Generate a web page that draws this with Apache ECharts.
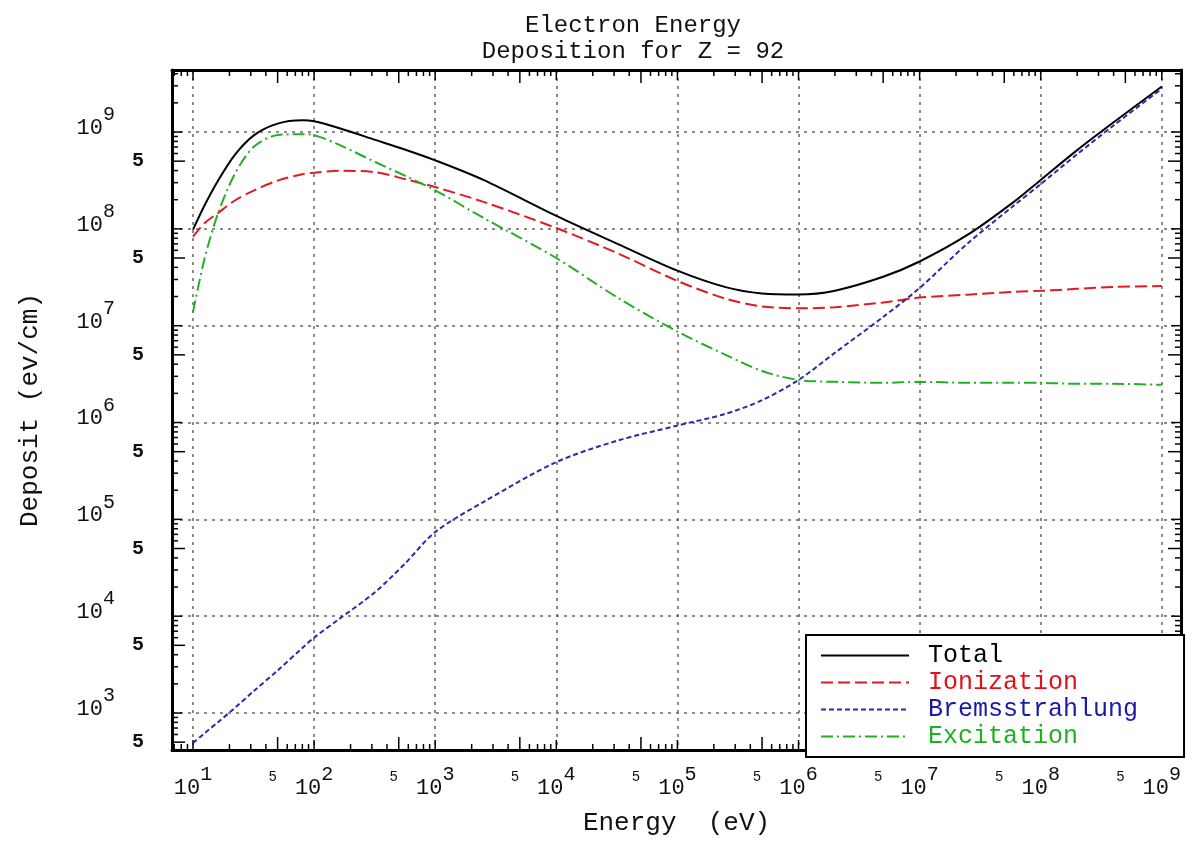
<!DOCTYPE html>
<html lang="en">
<head>
<meta charset="UTF-8">
<title>Electron Energy Deposition for Z = 92</title>
<script src="https://cdn.jsdelivr.net/npm/echarts@6.0.0/dist/echarts.min.js"></script>
<style>html,body{margin:0;padding:0;background:#fff;}</style>
</head>
<body>
<div id="main" style="width:1202px;height:842px;"></div>
<script>
// values (eV -> eV/cm)
var energy = [10, 12.5, 16, 22, 32, 50, 80, 100, 160, 320, 560, 1e3, 2.5e3, 1e4, 3.2e4, 1e5,
              2.5e5, 5e5, 1e6, 2e6, 5e6, 1e7, 2.5e7, 6e7, 1e8, 2e8, 4e8, 1e9];
var total = [9.8e7, 1.76e8, 3.1e8, 5.75e8, 9.3e8, 1.22e9, 1.32e9, 1.29e9, 1.1e9, 8.3e8, 6.6e8, 5.1e8, 3.2e8, 1.36e8, 7.0e7, 3.7e7,
             2.5e7, 2.15e7, 2.1e7, 2.3e7, 3.2e7, 4.6e7, 8.7e7, 1.9e8, 3.2e8, 6.5e8, 1.26e9, 2.95e9];
var ionization = [8.3e7, 1.15e8, 1.45e8, 1.95e8, 2.5e8, 3.15e8, 3.67e8, 3.8e8, 3.98e8, 3.85e8, 3.27e8, 2.7e8, 1.9e8, 1.02e8, 5.6e7, 2.9e7,
                  1.9e7, 1.58e7, 1.51e7, 1.55e7, 1.74e7, 1.95e7, 2.09e7, 2.24e7, 2.29e7, 2.4e7, 2.51e7, 2.57e7];
var bremsstrahlung = [490, 620, 800, 1120, 1700, 2750, 4700, 6000, 9300, 1.78e4, 3.47e4, 7.4e4, 1.51e5, 3.9e5, 6.5e5, 9.3e5,
                      1.23e6, 1.7e6, 2.75e6, 5.25e6, 1.23e7, 2.45e7, 7.1e7, 1.74e8, 2.9e8, 5.9e8, 1.17e9, 2.8e9];
var excitation = [1.38e7, 5.0e7, 1.41e8, 3.63e8, 7.1e8, 9.3e8, 9.5e8, 9.3e8, 7.4e8, 4.9e8, 3.55e8, 2.5e8, 1.3e8, 5.0e7, 1.95e7, 8.7e6,
                  5.0e6, 3.4e6, 2.75e6, 2.63e6, 2.57e6, 2.63e6, 2.57e6, 2.57e6, 2.57e6, 2.51e6, 2.51e6, 2.45e6];

// axis ranges and tick positions
var xRange = [6.71, 1.44e9];
var yRange = [415, 4.37e9];
var xDecades = [1, 10, 1e2, 1e3, 1e4, 1e5, 1e6, 1e7, 1e8, 1e9];
var yDecades = [1e2, 1e3, 1e4, 1e5, 1e6, 1e7, 1e8, 1e9];
var minorMult = [2, 3, 4, 6, 7, 8, 9];

function inRange(v, r) { return v >= r[0] && v <= r[1]; }
// [value, tick length] for every decade, 5x and other minor tick
function tickList(decades, r) {
    var out = [];
    decades.forEach(function (d) {
        if (inRange(d, r)) out.push([d, 10]);
        if (inRange(5 * d, r)) out.push([5 * d, 13]);
        minorMult.forEach(function (m) { if (inRange(m * d, r)) out.push([m * d, 6]); });
    });
    return out;
}
function fiveTicks(decades, r) {
    return decades.map(function (d) { return 5 * d; }).filter(function (v) { return inRange(v, r); });
}
var xTicks = tickList(xDecades, xRange), xFive = fiveTicks(xDecades, xRange);
var yTicks = tickList(yDecades, yRange), yFive = fiveTicks(yDecades, yRange);

var FONT = 'Liberation Mono';
var myChart = echarts.init(document.getElementById('main'));

function decadeLabel(v) {
    var p = Math.log10(v), n = Math.round(p);
    if (Math.abs(p - n) > 1e-6) return '';
    return '{b|10}{s|' + n + '}';
}
var rich = {
    b: {fontFamily: FONT, fontSize: 22, color: '#111', verticalAlign: 'bottom'},
    s: {fontFamily: FONT, fontSize: 20, color: '#111', verticalAlign: 'bottom', padding: [0, 0, 14, 0]}
};

var frame = {show: true, onZero: false, lineStyle: {color: '#000', width: 3}};
var gridLine = {type: [3, 5], color: '#666', width: 1.5};
var tickStyle = {stroke: '#000', lineWidth: 1.5};

function logAxis(range, extra) {
    return Object.assign({
        type: 'log', logBase: 10, min: range[0], max: range[1],
        axisLine: {show: false},
        axisTick: {show: false},
        axisLabel: {show: false},
        splitLine: {show: false}
    }, extra);
}

var xAxes = [
    logAxis(xRange, {position: 'bottom', axisLine: frame,
        axisLabel: {show: true, formatter: decadeLabel, margin: 15, rich: rich},
        splitLine: {show: true, lineStyle: gridLine},
        name: 'Energy  (eV)', nameLocation: 'middle', nameGap: 60,
        nameTextStyle: {fontFamily: FONT, fontSize: 26, color: '#111'}}),
    logAxis(xRange, {position: 'bottom',
        axisLabel: {show: true, customValues: xFive, formatter: function () { return '5'; }, margin: 20,
            fontFamily: FONT, fontSize: 14, color: '#111', padding: [0, 10, 0, 0]}}),
    logAxis(xRange, {position: 'top', axisLine: frame})
];
var yAxes = [
    logAxis(yRange, {position: 'left', axisLine: frame,
        axisLabel: {show: true, formatter: decadeLabel, margin: 57, rich: rich, padding: [0, 0, 20, 0]},
        splitLine: {show: true, lineStyle: gridLine},
        name: 'Deposit (ev/cm)', nameLocation: 'middle', nameGap: 129,
        nameTextStyle: {fontFamily: FONT, fontSize: 26, color: '#111'}}),
    logAxis(yRange, {position: 'left',
        axisLabel: {show: true, customValues: yFive, formatter: function () { return '5'; }, margin: 28,
            fontFamily: FONT, fontSize: 20, fontWeight: 'bold', color: '#111', padding: [0, 0, 6, 0]}}),
    logAxis(yRange, {position: 'right', axisLine: frame})
];

// inward tick marks on both opposite frame edges, placed through the axis scales
function xTickItem(params, api) {
    var v = api.value(0), len = api.value(2);
    var b = api.coord([v, yRange[0]]), t = api.coord([v, yRange[1]]);
    return {type: 'group', children: [
        {type: 'line', shape: {x1: b[0], y1: b[1], x2: b[0], y2: b[1] - len}, style: tickStyle},
        {type: 'line', shape: {x1: t[0], y1: t[1], x2: t[0], y2: t[1] + len}, style: tickStyle}
    ]};
}
function yTickItem(params, api) {
    var v = api.value(1), len = api.value(2);
    var l = api.coord([xRange[0], v]), r = api.coord([xRange[1], v]);
    return {type: 'group', children: [
        {type: 'line', shape: {x1: l[0], y1: l[1], x2: l[0] + len, y2: l[1]}, style: tickStyle},
        {type: 'line', shape: {x1: r[0], y1: r[1], x2: r[0] - len, y2: r[1]}, style: tickStyle}
    ]};
}

function pairs(ys) {
    return energy.map(function (e, i) { return [e, ys[i]]; });
}
function line(name, ys, color, dash) {
    return {
        name: name, type: 'line', data: pairs(ys), symbol: 'none',
        smooth: 0.3,
        xAxisIndex: 0, yAxisIndex: 0,
        lineStyle: {color: color, width: 2, type: dash},
        itemStyle: {color: color}
    };
}

var option = {
    animation: false,
    backgroundColor: '#fff',
    title: {
        text: 'Electron Energy\nDeposition for Z = 92',
        left: 628, top: 8, textAlign: 'center',
        textStyle: {fontFamily: FONT, fontSize: 24, fontWeight: 'normal', color: '#111', lineHeight: 26}
    },
    grid: {left: 172, right: 21, top: 70, bottom: 92, containLabel: false},
    xAxis: xAxes,
    yAxis: yAxes,
    legend: {
        orient: 'vertical', left: 806, top: 635,
        backgroundColor: '#fff', borderColor: '#000', borderWidth: 2, borderRadius: 0,
        padding: [8, 46, 8, 14],
        itemWidth: 88, itemHeight: 14, itemGap: 2,
        itemStyle: {opacity: 0},
        textStyle: {fontFamily: FONT, fontSize: 25, padding: [0, 0, 0, 14]},
        data: [
            {name: 'Total', textStyle: {color: '#000'}},
            {name: 'Ionization', textStyle: {color: '#e0101a'}},
            {name: 'Bremsstrahlung', textStyle: {color: '#1a1aa8'}},
            {name: 'Excitation', textStyle: {color: '#20b020'}}
        ]
    },
    series: [
        line('Total', total, '#000000', 'solid'),
        line('Ionization', ionization, '#e01b24', [12, 5]),
        line('Bremsstrahlung', bremsstrahlung, '#2a2aa8', [5, 3]),
        line('Excitation', excitation, '#22b022', [12, 4, 2, 4]),
        {type: 'custom', name: 'xticks', silent: true, clip: false, z: 3,
            data: xTicks.map(function (t) { return [t[0], yRange[0], t[1]]; }),
            encode: {x: 0, y: 1}, renderItem: xTickItem},
        {type: 'custom', name: 'yticks', silent: true, clip: false, z: 3,
            data: yTicks.map(function (t) { return [xRange[0], t[0], t[1]]; }),
            encode: {x: 0, y: 1}, renderItem: yTickItem}
    ]
};
myChart.setOption(option);
</script>
</body>
</html>
